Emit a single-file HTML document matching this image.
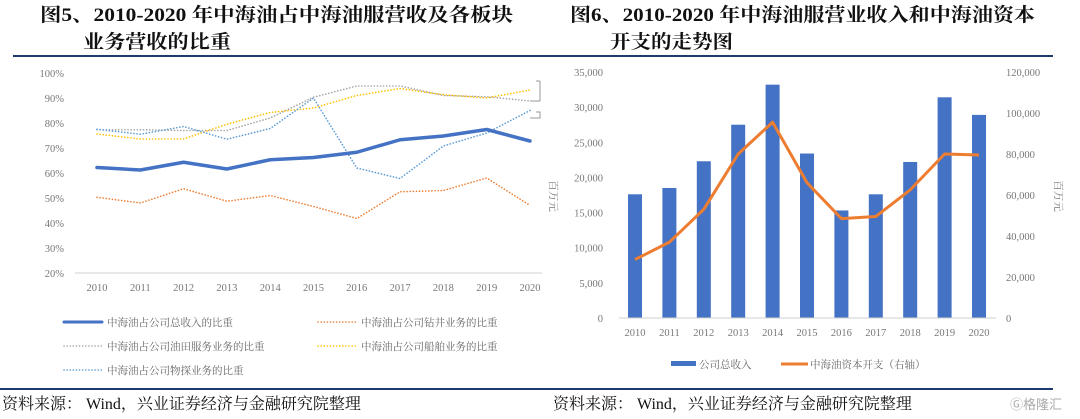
<!DOCTYPE html>
<html><head><meta charset="utf-8"><style>
html,body{margin:0;padding:0;background:#fff;}
svg{display:block;font-family:"Liberation Serif","Noto Serif CJK SC",serif;}
.t{font-weight:bold;font-size:19px;fill:#111;}
.tick{font-size:10.5px;fill:#777;}
.lg{font-size:10.5px;fill:#666;}
.ft{font-size:16px;fill:#111;}
</style></head><body>
<svg id="page" width="1080" height="419" viewBox="0 0 1080 419" xmlns="http://www.w3.org/2000/svg">
<text class="t" x="40" y="21" textLength="473" lengthAdjust="spacingAndGlyphs">图5、2010-2020 年中海油占中海油服营收及各板块</text>
<text class="t" x="83" y="48" textLength="148" lengthAdjust="spacingAndGlyphs">业务营收的比重</text>
<text class="t" x="570" y="21" textLength="465" lengthAdjust="spacingAndGlyphs">图6、2010-2020 年中海油服营业收入和中海油资本</text>
<text class="t" x="610" y="48" textLength="123" lengthAdjust="spacingAndGlyphs">开支的走势图</text>
<rect x="13" y="55" width="527" height="2" fill="#1f3a6e"/>
<rect x="540" y="55" width="513" height="2" fill="#1f3a6e"/>
<g id="left-chart"></g>
<g id="right-chart"></g>
<rect x="0" y="388" width="540" height="2" fill="#1f3a6e"/>
<rect x="540" y="388" width="513" height="2" fill="#1f3a6e"/>
<text class="ft" x="2" y="409">资料来源：  Wind，兴业证券经济与金融研究院整理</text>
<text class="ft" x="553" y="409">资料来源：  Wind，兴业证券经济与金融研究院整理</text>
<text x="1010" y="409" font-size="13" fill="#aaa" font-family="Liberation Sans,Noto Sans CJK SC,sans-serif">Ⓖ格隆汇</text>
</svg>
<script>
const NS='http://www.w3.org/2000/svg';
function mk(parent,tag,attrs,txt){const e=document.createElementNS(NS,tag);for(const k in attrs)e.setAttribute(k,attrs[k]);if(txt!==undefined)e.textContent=txt;parent.appendChild(e);return e;}

// ---------- Left chart data ----------
const years=['2010','2011','2012','2013','2014','2015','2016','2017','2018','2019','2020'];
const leftTicks=['20%','30%','40%','50%','60%','70%','80%','90%','100%'];
const shareTotal=[62.2,61.2,64.3,61.6,65.3,66.2,68.3,73.3,74.8,77.4,72.8];
const shareDrilling=[50.3,48,53.7,48.7,51,46.6,41.8,52.5,53,58,47];
const shareOilfield=[77.3,77.3,77,77,82,90.3,94.8,94.8,91,90.5,88.8];
const shareShipping=[75.6,73.6,73.6,79.5,84.2,86,91,93.8,91.3,90,93.2];
const shareGeophys=[77.5,75.5,78.6,73.5,77.8,90,62,57.8,70.8,76,85];

// ---------- Right chart data ----------
const revenue=[17600,18500,22300,27500,33200,23400,15300,17600,22200,31400,28900];
const capex=[28500,37000,53000,80000,95500,66000,48500,49500,62500,80000,79500];
const rightLeftTicks=['0','5,000','10,000','15,000','20,000','25,000','30,000','35,000'];
const rightRightTicks=['0','20,000','40,000','60,000','80,000','100,000','120,000'];

// Left chart
(function(){
 const g=document.getElementById('left-chart');
 const x=i=>97+i*43.3, y=v=>273-(v-20)*2.5;
 leftTicks.forEach((t,i)=>{const el=mk(g,'text',{class:'tick',x:64,y:y(20+i*10)+4,'text-anchor':'end'},t);
  
  });
 const ax=mk(g,'line',{x1:75,x2:542,y1:273,y2:273,stroke:'#d0d0d0','stroke-width':1});
 
 
 years.forEach((t,i)=>{const el=mk(g,'text',{class:'tick',x:x(i),y:291,'text-anchor':'middle','font-size':'11'},t);
  
  });
 const series=[[shareOilfield,'#a5a5a5','oilfield-share-line',1.6,'0.1 3'],[shareShipping,'#ffc000','shipping-share-line',1.6,'0.1 3'],[shareGeophys,'#5b9bd5','geophysics-share-line',1.6,'0.1 3'],[shareDrilling,'#ed7d31','drilling-share-line',1.6,'0.1 3'],[shareTotal,'#4472c4','total-share-line',3.5,'']];
 series.forEach(s=>{const p=mk(g,'polyline',{points:s[0].map((v,i)=>x(i)+','+y(v)).join(' '),fill:'none',stroke:s[1],'stroke-width':s[3],'stroke-dasharray':s[4],'stroke-linejoin':'round','stroke-linecap':'round'});
  
  });
 const br=mk(g,'path',{d:'M536 81 L540 81 M540 81 L540 101 M530 101 L540 101 M536 112 L540 112 L540 118 L530 118',fill:'none',stroke:'#999','stroke-width':1});
 
 
 const leg=[[64,322,'#4472c4',3,'','中海油占公司总收入的比重'],[318,322,'#ed7d31',1.6,'0.1 3','中海油占公司钻井业务的比重'],[64,346,'#a5a5a5',1.6,'0.1 3','中海油占公司油田服务业务的比重'],[318,346,'#ffc000',1.6,'0.1 3','中海油占公司船舶业务的比重'],[64,370,'#5b9bd5',1.6,'0.1 3','中海油占公司物探业务的比重']];
 leg.forEach(l=>{const eg=mk(g,'g',{});
  
  
  mk(eg,'line',{x1:l[0],x2:l[0]+38,y1:l[1],y2:l[1],stroke:l[2],'stroke-width':l[3],'stroke-dasharray':l[4],'stroke-linecap':'round'});
  mk(eg,'text',{class:'lg',x:l[0]+43,y:l[1]+4},l[5]);});
})();

// Right chart
(function(){
 const g=document.getElementById('right-chart');
 const x=i=>635+i*34.4, y=v=>318-v*(246/35000), y2=v=>318-v*(246/120000);
 rightLeftTicks.forEach((t,i)=>{const el=mk(g,'text',{class:'tick',x:603,y:y(i*5000)+4,'text-anchor':'end'},t);
  
  });
 rightRightTicks.forEach((t,i)=>{const el=mk(g,'text',{class:'tick',x:1006,y:y2(i*20000)+4},t);
  
  });
 const a1=mk(g,'text',{class:'tick',transform:'translate(550,196) rotate(90)','text-anchor':'middle','font-size':'12'},'百万元');
 
 
 const a2=mk(g,'text',{class:'tick',transform:'translate(1055,196) rotate(90)','text-anchor':'middle','font-size':'12'},'百万元');
 
 
 revenue.forEach((v,i)=>{const r=mk(g,'rect',{x:x(i)-7,y:y(v),width:14,height:318-y(v),fill:'#4472c4'});
  
  });
 const ax=mk(g,'line',{x1:619,x2:996,y1:318,y2:318,stroke:'#d0d0d0','stroke-width':1});
 
 
 years.forEach((t,i)=>{const el=mk(g,'text',{class:'tick',x:x(i),y:336,'text-anchor':'middle'},t);
  
  });
 const ln=mk(g,'polyline',{points:capex.map((v,i)=>x(i)+','+y2(v)).join(' '),fill:'none',stroke:'#ed7d31','stroke-width':3,'stroke-linejoin':'round'});
 
 
 const e1=mk(g,'g',{});
 
 
 mk(e1,'rect',{x:671,y:361,width:25,height:5,fill:'#4472c4'});
 mk(e1,'text',{class:'lg',x:699,y:368},'公司总收入');
 const e2=mk(g,'g',{});
 
 
 mk(e2,'line',{x1:781,x2:808,y1:364,y2:364,stroke:'#ed7d31','stroke-width':3});
 mk(e2,'text',{class:'lg',x:810,y:368},'中海油资本开支（右轴）');
})();
</script>
</body></html>
